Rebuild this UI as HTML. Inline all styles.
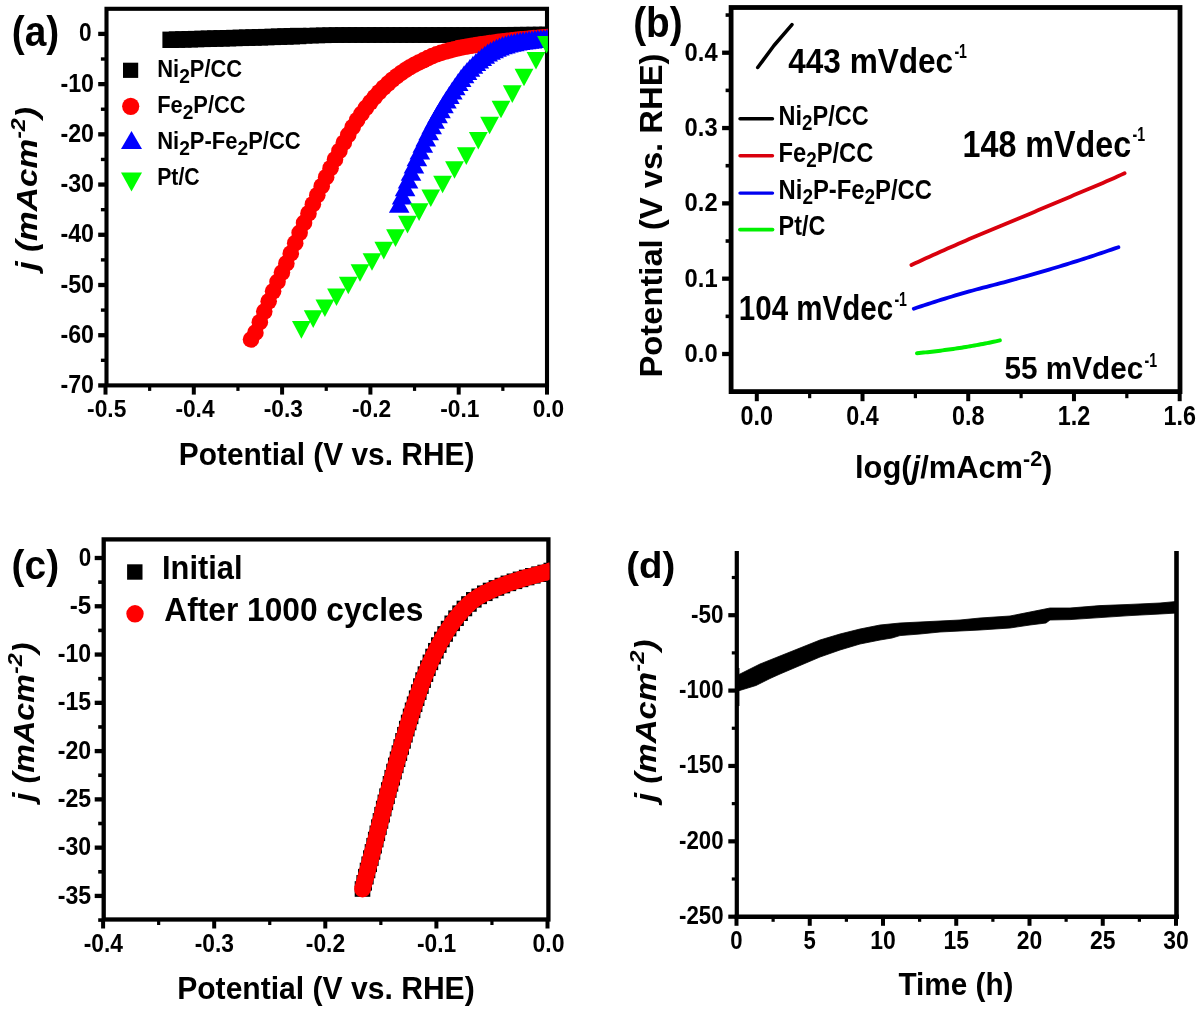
<!DOCTYPE html>
<html lang="en"><head><meta charset="utf-8"><title>HER performance figure</title>
<style>html,body{margin:0;padding:0;background:#fff}svg{display:block}</style></head><body>
<svg width="1200" height="1011" viewBox="0 0 1200 1011">
<rect width="1200" height="1011" fill="#fff"/>
<g id="panel-a">
<rect x="106.5" y="8.8" width="440.5" height="376.6" fill="none" stroke="#000" stroke-width="4.1"/>
<clipPath id="clipA"><rect x="106.5" y="8.8" width="441.4" height="376.6"/></clipPath>
<g clip-path="url(#clipA)">
<rect x="162.4" y="31.6" width="16.4" height="16.4" fill="#000"/>
<rect x="168.78" y="31.42" width="16.4" height="16.4" fill="#000"/>
<rect x="175.16" y="31.24" width="16.4" height="16.4" fill="#000"/>
<rect x="181.54" y="31.06" width="16.4" height="16.4" fill="#000"/>
<rect x="187.92" y="30.88" width="16.4" height="16.4" fill="#000"/>
<rect x="194.3" y="30.7" width="16.4" height="16.4" fill="#000"/>
<rect x="200.68" y="30.52" width="16.4" height="16.4" fill="#000"/>
<rect x="207.06" y="30.35" width="16.4" height="16.4" fill="#000"/>
<rect x="213.44" y="30.17" width="16.4" height="16.4" fill="#000"/>
<rect x="219.82" y="30" width="16.4" height="16.4" fill="#000"/>
<rect x="226.2" y="29.82" width="16.4" height="16.4" fill="#000"/>
<rect x="232.58" y="29.65" width="16.4" height="16.4" fill="#000"/>
<rect x="238.96" y="29.48" width="16.4" height="16.4" fill="#000"/>
<rect x="245.34" y="29.3" width="16.4" height="16.4" fill="#000"/>
<rect x="251.72" y="29.11" width="16.4" height="16.4" fill="#000"/>
<rect x="258.09" y="28.91" width="16.4" height="16.4" fill="#000"/>
<rect x="264.47" y="28.7" width="16.4" height="16.4" fill="#000"/>
<rect x="270.85" y="28.48" width="16.4" height="16.4" fill="#000"/>
<rect x="277.23" y="28.26" width="16.4" height="16.4" fill="#000"/>
<rect x="283.61" y="28.04" width="16.4" height="16.4" fill="#000"/>
<rect x="289.99" y="27.82" width="16.4" height="16.4" fill="#000"/>
<rect x="296.77" y="28.02" width="15.6" height="15.6" fill="#000"/>
<rect x="303.15" y="27.83" width="15.6" height="15.6" fill="#000"/>
<rect x="309.53" y="27.66" width="15.6" height="15.6" fill="#000"/>
<rect x="315.91" y="27.51" width="15.6" height="15.6" fill="#000"/>
<rect x="322.29" y="27.38" width="15.6" height="15.6" fill="#000"/>
<rect x="328.67" y="27.29" width="15.6" height="15.6" fill="#000"/>
<rect x="335.05" y="27.23" width="15.6" height="15.6" fill="#000"/>
<rect x="341.43" y="27.2" width="15.6" height="15.6" fill="#000"/>
<rect x="347.81" y="27.2" width="15.6" height="15.6" fill="#000"/>
<rect x="354.19" y="27.2" width="15.6" height="15.6" fill="#000"/>
<rect x="360.57" y="27.2" width="15.6" height="15.6" fill="#000"/>
<rect x="366.95" y="27.2" width="15.6" height="15.6" fill="#000"/>
<rect x="373.33" y="27.2" width="15.6" height="15.6" fill="#000"/>
<rect x="379.71" y="27.2" width="15.6" height="15.6" fill="#000"/>
<rect x="386.09" y="27.2" width="15.6" height="15.6" fill="#000"/>
<rect x="392.47" y="27.2" width="15.6" height="15.6" fill="#000"/>
<rect x="398.85" y="27.2" width="15.6" height="15.6" fill="#000"/>
<rect x="405.23" y="27.2" width="15.6" height="15.6" fill="#000"/>
<rect x="411.61" y="27.2" width="15.6" height="15.6" fill="#000"/>
<rect x="417.99" y="27.2" width="15.6" height="15.6" fill="#000"/>
<rect x="424.37" y="27.2" width="15.6" height="15.6" fill="#000"/>
<rect x="430.75" y="27.2" width="15.6" height="15.6" fill="#000"/>
<rect x="437.13" y="27.2" width="15.6" height="15.6" fill="#000"/>
<rect x="443.51" y="27.2" width="15.6" height="15.6" fill="#000"/>
<rect x="449.88" y="27.2" width="15.6" height="15.6" fill="#000"/>
<rect x="456.26" y="27.18" width="15.6" height="15.6" fill="#000"/>
<rect x="462.64" y="27.17" width="15.6" height="15.6" fill="#000"/>
<rect x="469.02" y="27.15" width="15.6" height="15.6" fill="#000"/>
<rect x="475.4" y="27.12" width="15.6" height="15.6" fill="#000"/>
<rect x="481.78" y="27.09" width="15.6" height="15.6" fill="#000"/>
<rect x="488.16" y="27.06" width="15.6" height="15.6" fill="#000"/>
<rect x="494.54" y="27.02" width="15.6" height="15.6" fill="#000"/>
<rect x="500.92" y="26.98" width="15.6" height="15.6" fill="#000"/>
<rect x="507.3" y="26.94" width="15.6" height="15.6" fill="#000"/>
<rect x="513.68" y="26.89" width="15.6" height="15.6" fill="#000"/>
<rect x="520.06" y="26.85" width="15.6" height="15.6" fill="#000"/>
<rect x="526.44" y="26.8" width="15.6" height="15.6" fill="#000"/>
<rect x="532.82" y="26.75" width="15.6" height="15.6" fill="#000"/>
<rect x="539.2" y="26.7" width="15.6" height="15.6" fill="#000"/>
<circle cx="251" cy="339.5" r="8.3" fill="#f00"/>
<circle cx="255.42" cy="332.66" r="8.3" fill="#f00"/>
<circle cx="259.84" cy="322.22" r="8.3" fill="#f00"/>
<circle cx="264.26" cy="311.6" r="8.3" fill="#f00"/>
<circle cx="268.68" cy="301.32" r="8.3" fill="#f00"/>
<circle cx="273.1" cy="291.36" r="8.3" fill="#f00"/>
<circle cx="277.52" cy="281.75" r="8.3" fill="#f00"/>
<circle cx="281.94" cy="272.62" r="8.3" fill="#f00"/>
<circle cx="286.36" cy="263.39" r="8.3" fill="#f00"/>
<circle cx="290.78" cy="253.49" r="8.3" fill="#f00"/>
<circle cx="295.2" cy="243.14" r="8.3" fill="#f00"/>
<circle cx="299.62" cy="232.79" r="8.3" fill="#f00"/>
<circle cx="304.04" cy="222.89" r="8.3" fill="#f00"/>
<circle cx="308.46" cy="213.42" r="8.3" fill="#f00"/>
<circle cx="312.88" cy="204.19" r="8.3" fill="#f00"/>
<circle cx="317.3" cy="195.13" r="8.3" fill="#f00"/>
<circle cx="321.72" cy="186.14" r="8.3" fill="#f00"/>
<circle cx="326.14" cy="177.14" r="8.3" fill="#f00"/>
<circle cx="330.56" cy="168.19" r="8.3" fill="#f00"/>
<circle cx="334.98" cy="159.41" r="8.3" fill="#f00"/>
<circle cx="339.4" cy="150.93" r="8.3" fill="#f00"/>
<circle cx="343.82" cy="142.7" r="8.3" fill="#f00"/>
<circle cx="348.24" cy="134.82" r="8.3" fill="#f00"/>
<circle cx="352.66" cy="127.17" r="8.3" fill="#f00"/>
<circle cx="357.08" cy="120.13" r="8.3" fill="#f00"/>
<circle cx="361.5" cy="113.75" r="8.3" fill="#f00"/>
<circle cx="365.92" cy="107.82" r="8.3" fill="#f00"/>
<circle cx="370.34" cy="102.29" r="8.3" fill="#f00"/>
<circle cx="374.76" cy="97.08" r="8.3" fill="#f00"/>
<circle cx="379.18" cy="92.2" r="8.3" fill="#f00"/>
<circle cx="383.6" cy="87.71" r="8.3" fill="#f00"/>
<circle cx="388.02" cy="83.56" r="8.3" fill="#f00"/>
<circle cx="392.44" cy="79.71" r="8.3" fill="#f00"/>
<circle cx="396.86" cy="76.18" r="8.3" fill="#f00"/>
<circle cx="401.28" cy="72.95" r="8.3" fill="#f00"/>
<circle cx="405.7" cy="69.96" r="8.3" fill="#f00"/>
<circle cx="410.12" cy="67.23" r="8.3" fill="#f00"/>
<circle cx="414.54" cy="64.74" r="8.3" fill="#f00"/>
<circle cx="418.96" cy="62.44" r="8.3" fill="#f00"/>
<circle cx="423.38" cy="60.26" r="8.3" fill="#f00"/>
<circle cx="427.8" cy="58.13" r="8.3" fill="#f00"/>
<circle cx="432.22" cy="56.1" r="8.3" fill="#f00"/>
<circle cx="436.64" cy="54.32" r="8.3" fill="#f00"/>
<circle cx="441.06" cy="52.84" r="8.3" fill="#f00"/>
<circle cx="445.48" cy="51.52" r="8.3" fill="#f00"/>
<circle cx="449.9" cy="50.33" r="8.3" fill="#f00"/>
<circle cx="454.32" cy="49.2" r="8.3" fill="#f00"/>
<circle cx="458.74" cy="48.15" r="8.3" fill="#f00"/>
<circle cx="463.16" cy="47.23" r="8.3" fill="#f00"/>
<circle cx="467.58" cy="46.43" r="8.3" fill="#f00"/>
<circle cx="472" cy="45.73" r="8.3" fill="#f00"/>
<circle cx="476.42" cy="45.04" r="8.3" fill="#f00"/>
<circle cx="480.84" cy="44.35" r="8.3" fill="#f00"/>
<circle cx="485.26" cy="43.68" r="8.3" fill="#f00"/>
<circle cx="489.68" cy="43.04" r="8.3" fill="#f00"/>
<circle cx="494.1" cy="42.46" r="8.3" fill="#f00"/>
<circle cx="498.52" cy="41.9" r="8.3" fill="#f00"/>
<circle cx="502.94" cy="41.36" r="8.3" fill="#f00"/>
<circle cx="507.36" cy="40.84" r="8.3" fill="#f00"/>
<circle cx="511.78" cy="40.35" r="8.3" fill="#f00"/>
<circle cx="516.2" cy="39.87" r="8.3" fill="#f00"/>
<circle cx="520.62" cy="39.41" r="8.3" fill="#f00"/>
<circle cx="525.04" cy="38.97" r="8.3" fill="#f00"/>
<circle cx="529.46" cy="38.55" r="8.3" fill="#f00"/>
<circle cx="533.88" cy="38.14" r="8.3" fill="#f00"/>
<circle cx="538.3" cy="37.74" r="8.3" fill="#f00"/>
<circle cx="542.72" cy="37.35" r="8.3" fill="#f00"/>
<circle cx="547.14" cy="37" r="8.3" fill="#f00"/>
<polygon points="388.9,212.8 409.5,212.8 399.2,194.8" fill="#00f"/>
<polygon points="391.85,204.42 412.45,204.42 402.15,186.42" fill="#00f"/>
<polygon points="394.8,196.28 415.4,196.28 405.1,178.28" fill="#00f"/>
<polygon points="397.75,188.4 418.35,188.4 408.05,170.4" fill="#00f"/>
<polygon points="400.7,180.78 421.3,180.78 411,162.78" fill="#00f"/>
<polygon points="403.65,173.41 424.25,173.41 413.95,155.41" fill="#00f"/>
<polygon points="406.6,166.27 427.2,166.27 416.9,148.27" fill="#00f"/>
<polygon points="409.55,159.38 430.15,159.38 419.85,141.38" fill="#00f"/>
<polygon points="412.5,152.76 433.1,152.76 422.8,134.76" fill="#00f"/>
<polygon points="415.45,146.41 436.05,146.41 425.75,128.41" fill="#00f"/>
<polygon points="418.4,140.28 439,140.28 428.7,122.28" fill="#00f"/>
<polygon points="421.35,134.35 441.95,134.35 431.65,116.35" fill="#00f"/>
<polygon points="424.3,128.68 444.9,128.68 434.6,110.68" fill="#00f"/>
<polygon points="427.25,123.27 447.85,123.27 437.55,105.27" fill="#00f"/>
<polygon points="430.2,118.13 450.8,118.13 440.5,100.13" fill="#00f"/>
<polygon points="433.15,113.23 453.75,113.23 443.45,95.23" fill="#00f"/>
<polygon points="436.1,108.53 456.7,108.53 446.4,90.53" fill="#00f"/>
<polygon points="439.05,103.98 459.65,103.98 449.35,85.98" fill="#00f"/>
<polygon points="442,99.56 462.6,99.56 452.3,81.56" fill="#00f"/>
<polygon points="444.95,95.18 465.55,95.18 455.25,77.18" fill="#00f"/>
<polygon points="447.9,90.93 468.5,90.93 458.2,72.93" fill="#00f"/>
<polygon points="450.85,86.92 471.45,86.92 461.15,68.92" fill="#00f"/>
<polygon points="453.8,83.24 474.4,83.24 464.1,65.24" fill="#00f"/>
<polygon points="456.75,79.88 477.35,79.88 467.05,61.88" fill="#00f"/>
<polygon points="459.7,76.75 480.3,76.75 470,58.75" fill="#00f"/>
<polygon points="462.65,73.82 483.25,73.82 472.95,55.82" fill="#00f"/>
<polygon points="465.6,71.08 486.2,71.08 475.9,53.08" fill="#00f"/>
<polygon points="468.55,68.51 489.15,68.51 478.85,50.51" fill="#00f"/>
<polygon points="471.5,66.02 492.1,66.02 481.8,48.02" fill="#00f"/>
<polygon points="474.45,63.67 495.05,63.67 484.75,45.67" fill="#00f"/>
<polygon points="477.4,61.53 498,61.53 487.7,43.53" fill="#00f"/>
<polygon points="480.35,59.69 500.95,59.69 490.65,41.69" fill="#00f"/>
<polygon points="483.3,58.13 503.9,58.13 493.6,40.13" fill="#00f"/>
<polygon points="486.25,56.71 506.85,56.71 496.55,38.71" fill="#00f"/>
<polygon points="489.2,55.44 509.8,55.44 499.5,37.44" fill="#00f"/>
<polygon points="492.15,54.32 512.75,54.32 502.45,36.32" fill="#00f"/>
<polygon points="495.1,53.38 515.7,53.38 505.4,35.38" fill="#00f"/>
<polygon points="498.05,52.56 518.65,52.56 508.35,34.56" fill="#00f"/>
<polygon points="501,51.83 521.6,51.83 511.3,33.83" fill="#00f"/>
<polygon points="503.95,51.17 524.55,51.17 514.25,33.17" fill="#00f"/>
<polygon points="506.9,50.59 527.5,50.59 517.2,32.59" fill="#00f"/>
<polygon points="509.85,50.08 530.45,50.08 520.15,32.08" fill="#00f"/>
<polygon points="512.8,49.61 533.4,49.61 523.1,31.61" fill="#00f"/>
<polygon points="515.75,49.19 536.35,49.19 526.05,31.19" fill="#00f"/>
<polygon points="518.7,48.8 539.3,48.8 529,30.8" fill="#00f"/>
<polygon points="521.65,48.43 542.25,48.43 531.95,30.43" fill="#00f"/>
<polygon points="524.6,48.1 545.2,48.1 534.9,30.1" fill="#00f"/>
<polygon points="527.55,47.79 548.15,47.79 537.85,29.79" fill="#00f"/>
<polygon points="530.5,47.5 551.1,47.5 540.8,29.5" fill="#00f"/>
<polygon points="533.45,47.24 554.05,47.24 543.75,29.24" fill="#00f"/>
<polygon points="536.4,47.02 557,47.02 546.7,29.02" fill="#00f"/>
<polygon points="292,321.1 310.8,321.1 301.4,338.7" fill="#0f0"/>
<polygon points="303.8,310.3 322.6,310.3 313.2,327.9" fill="#0f0"/>
<polygon points="315.5,299.5 334.3,299.5 324.9,317.1" fill="#0f0"/>
<polygon points="327.1,288.5 345.9,288.5 336.5,306.1" fill="#0f0"/>
<polygon points="338.9,276.7 357.7,276.7 348.3,294.3" fill="#0f0"/>
<polygon points="350.6,264.2 369.4,264.2 360,281.8" fill="#0f0"/>
<polygon points="362.6,253.2 381.4,253.2 372,270.8" fill="#0f0"/>
<polygon points="374.4,241.8 393.2,241.8 383.8,259.4" fill="#0f0"/>
<polygon points="386.1,229.3 404.9,229.3 395.5,246.9" fill="#0f0"/>
<polygon points="398.1,215.8 416.9,215.8 407.5,233.4" fill="#0f0"/>
<polygon points="409.7,203.3 428.5,203.3 419.1,220.9" fill="#0f0"/>
<polygon points="421.4,189.4 440.2,189.4 430.8,207" fill="#0f0"/>
<polygon points="433.2,175.7 452,175.7 442.6,193.3" fill="#0f0"/>
<polygon points="445.1,161.2 463.9,161.2 454.5,178.8" fill="#0f0"/>
<polygon points="456.9,147.3 475.7,147.3 466.3,164.9" fill="#0f0"/>
<polygon points="468.9,132 487.7,132 478.3,149.6" fill="#0f0"/>
<polygon points="480.2,116.7 499,116.7 489.6,134.3" fill="#0f0"/>
<polygon points="491.6,100.7 510.4,100.7 501,118.3" fill="#0f0"/>
<polygon points="502.9,85.3 521.7,85.3 512.3,102.9" fill="#0f0"/>
<polygon points="514.6,68.7 533.4,68.7 524,86.3" fill="#0f0"/>
<polygon points="526.6,52 545.4,52 536,69.6" fill="#0f0"/>
<polygon points="537.1,36 555.9,36 546.5,53.6" fill="#0f0"/>
</g>
<line x1="98.2" y1="33.9" x2="106.5" y2="33.9" stroke="#000" stroke-width="4.3" stroke-linecap="butt"/>
<line x1="98.2" y1="84.12" x2="106.5" y2="84.12" stroke="#000" stroke-width="4.3" stroke-linecap="butt"/>
<line x1="98.2" y1="134.34" x2="106.5" y2="134.34" stroke="#000" stroke-width="4.3" stroke-linecap="butt"/>
<line x1="98.2" y1="184.56" x2="106.5" y2="184.56" stroke="#000" stroke-width="4.3" stroke-linecap="butt"/>
<line x1="98.2" y1="234.78" x2="106.5" y2="234.78" stroke="#000" stroke-width="4.3" stroke-linecap="butt"/>
<line x1="98.2" y1="285" x2="106.5" y2="285" stroke="#000" stroke-width="4.3" stroke-linecap="butt"/>
<line x1="98.2" y1="335.22" x2="106.5" y2="335.22" stroke="#000" stroke-width="4.3" stroke-linecap="butt"/>
<line x1="98.2" y1="385.44" x2="106.5" y2="385.44" stroke="#000" stroke-width="4.3" stroke-linecap="butt"/>
<line x1="100.9" y1="59.01" x2="106.5" y2="59.01" stroke="#000" stroke-width="3.4" stroke-linecap="butt"/>
<line x1="100.9" y1="109.23" x2="106.5" y2="109.23" stroke="#000" stroke-width="3.4" stroke-linecap="butt"/>
<line x1="100.9" y1="159.45" x2="106.5" y2="159.45" stroke="#000" stroke-width="3.4" stroke-linecap="butt"/>
<line x1="100.9" y1="209.67" x2="106.5" y2="209.67" stroke="#000" stroke-width="3.4" stroke-linecap="butt"/>
<line x1="100.9" y1="259.89" x2="106.5" y2="259.89" stroke="#000" stroke-width="3.4" stroke-linecap="butt"/>
<line x1="100.9" y1="310.11" x2="106.5" y2="310.11" stroke="#000" stroke-width="3.4" stroke-linecap="butt"/>
<line x1="100.9" y1="360.33" x2="106.5" y2="360.33" stroke="#000" stroke-width="3.4" stroke-linecap="butt"/>
<line x1="547" y1="385.4" x2="547" y2="394.6" stroke="#000" stroke-width="4" stroke-linecap="butt"/>
<line x1="458.7" y1="385.4" x2="458.7" y2="394.6" stroke="#000" stroke-width="4" stroke-linecap="butt"/>
<line x1="370.4" y1="385.4" x2="370.4" y2="394.6" stroke="#000" stroke-width="4" stroke-linecap="butt"/>
<line x1="282.1" y1="385.4" x2="282.1" y2="394.6" stroke="#000" stroke-width="4" stroke-linecap="butt"/>
<line x1="193.8" y1="385.4" x2="193.8" y2="394.6" stroke="#000" stroke-width="4" stroke-linecap="butt"/>
<line x1="105.5" y1="385.4" x2="105.5" y2="394.6" stroke="#000" stroke-width="4" stroke-linecap="butt"/>
<line x1="502.85" y1="385.4" x2="502.85" y2="390.9" stroke="#000" stroke-width="3.2" stroke-linecap="butt"/>
<line x1="414.55" y1="385.4" x2="414.55" y2="390.9" stroke="#000" stroke-width="3.2" stroke-linecap="butt"/>
<line x1="326.25" y1="385.4" x2="326.25" y2="390.9" stroke="#000" stroke-width="3.2" stroke-linecap="butt"/>
<line x1="237.95" y1="385.4" x2="237.95" y2="390.9" stroke="#000" stroke-width="3.2" stroke-linecap="butt"/>
<line x1="149.65" y1="385.4" x2="149.65" y2="390.9" stroke="#000" stroke-width="3.2" stroke-linecap="butt"/>
<text x="91.6" y="41.4" font-size="25.2" font-weight="bold" font-family='"Liberation Sans", Arial, Helvetica, sans-serif' fill="#000" text-anchor="end" textLength="12.6" lengthAdjust="spacingAndGlyphs">0</text>
<text x="94" y="91.62" font-size="25.2" font-weight="bold" font-family='"Liberation Sans", Arial, Helvetica, sans-serif' fill="#000" text-anchor="end" textLength="33.6" lengthAdjust="spacingAndGlyphs">-10</text>
<text x="94" y="141.84" font-size="25.2" font-weight="bold" font-family='"Liberation Sans", Arial, Helvetica, sans-serif' fill="#000" text-anchor="end" textLength="33.6" lengthAdjust="spacingAndGlyphs">-20</text>
<text x="94" y="192.06" font-size="25.2" font-weight="bold" font-family='"Liberation Sans", Arial, Helvetica, sans-serif' fill="#000" text-anchor="end" textLength="33.6" lengthAdjust="spacingAndGlyphs">-30</text>
<text x="94" y="242.28" font-size="25.2" font-weight="bold" font-family='"Liberation Sans", Arial, Helvetica, sans-serif' fill="#000" text-anchor="end" textLength="33.6" lengthAdjust="spacingAndGlyphs">-40</text>
<text x="94" y="292.5" font-size="25.2" font-weight="bold" font-family='"Liberation Sans", Arial, Helvetica, sans-serif' fill="#000" text-anchor="end" textLength="33.6" lengthAdjust="spacingAndGlyphs">-50</text>
<text x="94" y="342.72" font-size="25.2" font-weight="bold" font-family='"Liberation Sans", Arial, Helvetica, sans-serif' fill="#000" text-anchor="end" textLength="33.6" lengthAdjust="spacingAndGlyphs">-60</text>
<text x="94" y="392.94" font-size="25.2" font-weight="bold" font-family='"Liberation Sans", Arial, Helvetica, sans-serif' fill="#000" text-anchor="end" textLength="33.6" lengthAdjust="spacingAndGlyphs">-70</text>
<text x="548.4" y="416.9" font-size="24.2" font-weight="bold" font-family='"Liberation Sans", Arial, Helvetica, sans-serif' fill="#000" text-anchor="middle" textLength="31.5" lengthAdjust="spacingAndGlyphs">0.0</text>
<text x="459.9" y="416.9" font-size="24.2" font-weight="bold" font-family='"Liberation Sans", Arial, Helvetica, sans-serif' fill="#000" text-anchor="middle" textLength="39.2" lengthAdjust="spacingAndGlyphs">-0.1</text>
<text x="371.6" y="416.9" font-size="24.2" font-weight="bold" font-family='"Liberation Sans", Arial, Helvetica, sans-serif' fill="#000" text-anchor="middle" textLength="39.2" lengthAdjust="spacingAndGlyphs">-0.2</text>
<text x="283.3" y="416.9" font-size="24.2" font-weight="bold" font-family='"Liberation Sans", Arial, Helvetica, sans-serif' fill="#000" text-anchor="middle" textLength="39.2" lengthAdjust="spacingAndGlyphs">-0.3</text>
<text x="195" y="416.9" font-size="24.2" font-weight="bold" font-family='"Liberation Sans", Arial, Helvetica, sans-serif' fill="#000" text-anchor="middle" textLength="39.2" lengthAdjust="spacingAndGlyphs">-0.4</text>
<text x="106.7" y="416.9" font-size="24.2" font-weight="bold" font-family='"Liberation Sans", Arial, Helvetica, sans-serif' fill="#000" text-anchor="middle" textLength="39.2" lengthAdjust="spacingAndGlyphs">-0.5</text>
<text x="178.8" y="465.2" font-size="30.5" font-weight="bold" font-family='"Liberation Sans", Arial, Helvetica, sans-serif' fill="#000" textLength="295.6" lengthAdjust="spacingAndGlyphs">Potential (V vs. RHE)</text>
<text x="37" y="270.6" font-size="30.3" font-weight="bold" font-family='"Liberation Sans", Arial, Helvetica, sans-serif' fill="#000" font-style="italic" textLength="163.5" lengthAdjust="spacingAndGlyphs" transform="rotate(-90 37 270.6)">j (mAcm<tspan font-size="21" dy="-11.5">-2</tspan><tspan dy="11.5">)</tspan></text>
<text x="11.8" y="46" font-size="42.5" font-weight="bold" font-family='"Liberation Sans", Arial, Helvetica, sans-serif' fill="#000" textLength="47.5" lengthAdjust="spacingAndGlyphs">(a)</text>
<rect x="123" y="62.7" width="15.2" height="15.2" fill="#000"/>
<circle cx="130.7" cy="106.3" r="8.6" fill="#f00"/>
<polygon points="121,149 142,149 131.5,131" fill="#00f"/>
<polygon points="121,172.5 142,172.5 131.5,191.5" fill="#0f0"/>
<text x="157.2" y="76.9" font-size="24" font-weight="bold" font-family='"Liberation Sans", Arial, Helvetica, sans-serif' fill="#000" textLength="85" lengthAdjust="spacingAndGlyphs">Ni<tspan font-size="21" dy="6">2</tspan><tspan dy="-6">P/CC</tspan></text>
<text x="157.2" y="113.1" font-size="24" font-weight="bold" font-family='"Liberation Sans", Arial, Helvetica, sans-serif' fill="#000" textLength="88.3" lengthAdjust="spacingAndGlyphs">Fe<tspan font-size="21" dy="6">2</tspan><tspan dy="-6">P/CC</tspan></text>
<text x="157.2" y="148.5" font-size="24" font-weight="bold" font-family='"Liberation Sans", Arial, Helvetica, sans-serif' fill="#000" textLength="143.5" lengthAdjust="spacingAndGlyphs">Ni<tspan font-size="21" dy="6">2</tspan><tspan dy="-6">P-Fe</tspan><tspan font-size="21" dy="6">2</tspan><tspan dy="-6">P/CC</tspan></text>
<text x="157.2" y="185.4" font-size="24" font-weight="bold" font-family='"Liberation Sans", Arial, Helvetica, sans-serif' fill="#000" textLength="42.5" lengthAdjust="spacingAndGlyphs">Pt/C</text>
</g>
<g id="panel-b">
<rect x="731.1" y="7.5" width="448.9" height="384.1" fill="none" stroke="#000" stroke-width="4.8"/>
<line x1="722.1" y1="354" x2="731.1" y2="354" stroke="#000" stroke-width="4.3" stroke-linecap="butt"/>
<line x1="722.1" y1="278.68" x2="731.1" y2="278.68" stroke="#000" stroke-width="4.3" stroke-linecap="butt"/>
<line x1="722.1" y1="203.36" x2="731.1" y2="203.36" stroke="#000" stroke-width="4.3" stroke-linecap="butt"/>
<line x1="722.1" y1="128.04" x2="731.1" y2="128.04" stroke="#000" stroke-width="4.3" stroke-linecap="butt"/>
<line x1="722.1" y1="52.72" x2="731.1" y2="52.72" stroke="#000" stroke-width="4.3" stroke-linecap="butt"/>
<line x1="725.6" y1="316.34" x2="731.1" y2="316.34" stroke="#000" stroke-width="3.6" stroke-linecap="butt"/>
<line x1="725.6" y1="241.02" x2="731.1" y2="241.02" stroke="#000" stroke-width="3.6" stroke-linecap="butt"/>
<line x1="725.6" y1="165.7" x2="731.1" y2="165.7" stroke="#000" stroke-width="3.6" stroke-linecap="butt"/>
<line x1="725.6" y1="90.38" x2="731.1" y2="90.38" stroke="#000" stroke-width="3.6" stroke-linecap="butt"/>
<line x1="725.6" y1="15.06" x2="731.1" y2="15.06" stroke="#000" stroke-width="3.6" stroke-linecap="butt"/>
<line x1="756.8" y1="391.6" x2="756.8" y2="401.2" stroke="#000" stroke-width="4" stroke-linecap="butt"/>
<line x1="862.52" y1="391.6" x2="862.52" y2="401.2" stroke="#000" stroke-width="4" stroke-linecap="butt"/>
<line x1="968.24" y1="391.6" x2="968.24" y2="401.2" stroke="#000" stroke-width="4" stroke-linecap="butt"/>
<line x1="1073.96" y1="391.6" x2="1073.96" y2="401.2" stroke="#000" stroke-width="4" stroke-linecap="butt"/>
<line x1="1179.68" y1="391.6" x2="1179.68" y2="401.2" stroke="#000" stroke-width="4" stroke-linecap="butt"/>
<line x1="809.66" y1="391.6" x2="809.66" y2="398.2" stroke="#000" stroke-width="3.2" stroke-linecap="butt"/>
<line x1="915.38" y1="391.6" x2="915.38" y2="398.2" stroke="#000" stroke-width="3.2" stroke-linecap="butt"/>
<line x1="1021.1" y1="391.6" x2="1021.1" y2="398.2" stroke="#000" stroke-width="3.2" stroke-linecap="butt"/>
<line x1="1126.82" y1="391.6" x2="1126.82" y2="398.2" stroke="#000" stroke-width="3.2" stroke-linecap="butt"/>
<text x="717.6" y="362" font-size="25.5" font-weight="bold" font-family='"Liberation Sans", Arial, Helvetica, sans-serif' fill="#000" text-anchor="end" textLength="33" lengthAdjust="spacingAndGlyphs">0.0</text>
<text x="717.6" y="286.68" font-size="25.5" font-weight="bold" font-family='"Liberation Sans", Arial, Helvetica, sans-serif' fill="#000" text-anchor="end" textLength="33" lengthAdjust="spacingAndGlyphs">0.1</text>
<text x="717.6" y="211.36" font-size="25.5" font-weight="bold" font-family='"Liberation Sans", Arial, Helvetica, sans-serif' fill="#000" text-anchor="end" textLength="33" lengthAdjust="spacingAndGlyphs">0.2</text>
<text x="717.6" y="136.04" font-size="25.5" font-weight="bold" font-family='"Liberation Sans", Arial, Helvetica, sans-serif' fill="#000" text-anchor="end" textLength="33" lengthAdjust="spacingAndGlyphs">0.3</text>
<text x="717.6" y="60.72" font-size="25.5" font-weight="bold" font-family='"Liberation Sans", Arial, Helvetica, sans-serif' fill="#000" text-anchor="end" textLength="33" lengthAdjust="spacingAndGlyphs">0.4</text>
<text x="756.8" y="424.9" font-size="27.5" font-weight="bold" font-family='"Liberation Sans", Arial, Helvetica, sans-serif' fill="#000" text-anchor="middle" textLength="32.5" lengthAdjust="spacingAndGlyphs">0.0</text>
<text x="862.52" y="424.9" font-size="27.5" font-weight="bold" font-family='"Liberation Sans", Arial, Helvetica, sans-serif' fill="#000" text-anchor="middle" textLength="32.5" lengthAdjust="spacingAndGlyphs">0.4</text>
<text x="968.24" y="424.9" font-size="27.5" font-weight="bold" font-family='"Liberation Sans", Arial, Helvetica, sans-serif' fill="#000" text-anchor="middle" textLength="32.5" lengthAdjust="spacingAndGlyphs">0.8</text>
<text x="1073.96" y="424.9" font-size="27.5" font-weight="bold" font-family='"Liberation Sans", Arial, Helvetica, sans-serif' fill="#000" text-anchor="middle" textLength="32.5" lengthAdjust="spacingAndGlyphs">1.2</text>
<text x="1179.68" y="424.9" font-size="27.5" font-weight="bold" font-family='"Liberation Sans", Arial, Helvetica, sans-serif' fill="#000" text-anchor="middle" textLength="32.5" lengthAdjust="spacingAndGlyphs">1.6</text>
<polyline points="757.7,67.5 774,45.5 792,24.6" fill="none" stroke="#000" stroke-width="3.5" stroke-linecap="round" stroke-linejoin="round"/>
<polyline points="911.4,265 915.01,263.32 918.63,261.65 922.24,259.99 925.85,258.34 929.47,256.69 933.08,255.05 936.69,253.42 940.31,251.8 943.92,250.19 947.54,248.58 951.15,246.98 954.76,245.39 958.38,243.81 961.99,242.23 965.6,240.67 969.22,239.12 972.83,237.59 976.44,236.06 980.06,234.55 983.67,233.04 987.28,231.53 990.9,230.03 994.51,228.54 998.13,227.04 1001.74,225.54 1005.35,224.04 1008.97,222.53 1012.58,221.02 1016.19,219.5 1019.81,217.98 1023.42,216.46 1027.03,214.94 1030.65,213.41 1034.26,211.89 1037.87,210.37 1041.49,208.84 1045.1,207.31 1048.72,205.79 1052.33,204.26 1055.94,202.73 1059.56,201.21 1063.17,199.68 1066.78,198.15 1070.4,196.63 1074.01,195.12 1077.62,193.61 1081.24,192.1 1084.85,190.59 1088.46,189.07 1092.08,187.55 1095.69,186.02 1099.31,184.48 1102.92,182.93 1106.53,181.36 1110.15,179.76 1113.76,178.15 1117.37,176.51 1120.99,174.86 1124.6,173.2" fill="none" stroke="#d9000d" stroke-width="3.8" stroke-linecap="round" stroke-linejoin="round"/>
<polyline points="913.8,308.7 917.27,307.53 920.74,306.37 924.2,305.22 927.67,304.09 931.14,302.96 934.61,301.85 938.07,300.74 941.54,299.66 945.01,298.58 948.48,297.51 951.95,296.46 955.41,295.42 958.88,294.4 962.35,293.39 965.82,292.39 969.28,291.43 972.75,290.48 976.22,289.54 979.69,288.62 983.16,287.71 986.62,286.81 990.09,285.91 993.56,285.02 997.03,284.12 1000.49,283.21 1003.96,282.3 1007.43,281.38 1010.9,280.44 1014.37,279.48 1017.83,278.51 1021.3,277.54 1024.77,276.57 1028.24,275.59 1031.71,274.6 1035.17,273.61 1038.64,272.61 1042.11,271.61 1045.58,270.6 1049.04,269.58 1052.51,268.55 1055.98,267.51 1059.45,266.47 1062.92,265.41 1066.38,264.34 1069.85,263.27 1073.32,262.18 1076.79,261.08 1080.25,259.98 1083.72,258.86 1087.19,257.74 1090.66,256.6 1094.13,255.46 1097.59,254.3 1101.06,253.14 1104.53,251.97 1108,250.79 1111.46,249.6 1114.93,248.41 1118.4,247.2" fill="none" stroke="#0000f0" stroke-width="3.8" stroke-linecap="round" stroke-linejoin="round"/>
<polyline points="917,353.2 919.13,353 921.25,352.8 923.38,352.59 925.5,352.37 927.63,352.14 929.75,351.9 931.88,351.66 934.01,351.42 936.13,351.16 938.26,350.9 940.38,350.64 942.51,350.37 944.63,350.09 946.76,349.81 948.88,349.53 951.01,349.24 953.14,348.94 955.26,348.64 957.39,348.32 959.51,348 961.64,347.66 963.76,347.32 965.89,346.97 968.02,346.61 970.14,346.25 972.27,345.88 974.39,345.5 976.52,345.12 978.64,344.73 980.77,344.33 982.89,343.94 985.02,343.53 987.15,343.12 989.27,342.69 991.4,342.25 993.52,341.8 995.65,341.34 997.77,340.87 999.9,340.4" fill="none" stroke="#00f000" stroke-width="4" stroke-linecap="round" stroke-linejoin="round"/>
<line x1="740" y1="118.8" x2="772.5" y2="118.8" stroke="#000" stroke-width="3.4" stroke-linecap="round"/>
<line x1="740" y1="155.8" x2="772.5" y2="155.8" stroke="#d9000d" stroke-width="3.4" stroke-linecap="round"/>
<line x1="740" y1="193.1" x2="772.5" y2="193.1" stroke="#0000f0" stroke-width="3.4" stroke-linecap="round"/>
<line x1="740" y1="229.6" x2="772.5" y2="229.6" stroke="#00f000" stroke-width="3.8" stroke-linecap="round"/>
<text x="778.6" y="125.2" font-size="27" font-weight="bold" font-family='"Liberation Sans", Arial, Helvetica, sans-serif' fill="#000" textLength="90" lengthAdjust="spacingAndGlyphs">Ni<tspan font-size="21.5" dy="5">2</tspan><tspan dy="-5">P/CC</tspan></text>
<text x="778.6" y="161.7" font-size="27" font-weight="bold" font-family='"Liberation Sans", Arial, Helvetica, sans-serif' fill="#000" textLength="94.7" lengthAdjust="spacingAndGlyphs">Fe<tspan font-size="21.5" dy="5">2</tspan><tspan dy="-5">P/CC</tspan></text>
<text x="778.6" y="198.5" font-size="27" font-weight="bold" font-family='"Liberation Sans", Arial, Helvetica, sans-serif' fill="#000" textLength="153.4" lengthAdjust="spacingAndGlyphs">Ni<tspan font-size="21.5" dy="5">2</tspan><tspan dy="-5">P-Fe</tspan><tspan font-size="21.5" dy="5">2</tspan><tspan dy="-5">P/CC</tspan></text>
<text x="778.6" y="235.4" font-size="27" font-weight="bold" font-family='"Liberation Sans", Arial, Helvetica, sans-serif' fill="#000" textLength="46.7" lengthAdjust="spacingAndGlyphs">Pt/C</text>
<text x="788.2" y="72.7" font-size="35" font-weight="bold" font-family='"Liberation Sans", Arial, Helvetica, sans-serif' fill="#000" textLength="165" lengthAdjust="spacingAndGlyphs">443 mVdec</text>
<text x="954.4" y="58" font-size="19.3" font-weight="bold" font-family='"Liberation Sans", Arial, Helvetica, sans-serif' fill="#000" textLength="12.6" lengthAdjust="spacingAndGlyphs">-1</text>
<text x="962.6" y="157" font-size="36" font-weight="bold" font-family='"Liberation Sans", Arial, Helvetica, sans-serif' fill="#000" textLength="168.5" lengthAdjust="spacingAndGlyphs">148 mVdec</text>
<text x="1132.5" y="141.4" font-size="19.3" font-weight="bold" font-family='"Liberation Sans", Arial, Helvetica, sans-serif' fill="#000" textLength="12.6" lengthAdjust="spacingAndGlyphs">-1</text>
<text x="738.8" y="320" font-size="35" font-weight="bold" font-family='"Liberation Sans", Arial, Helvetica, sans-serif' fill="#000" textLength="154.3" lengthAdjust="spacingAndGlyphs">104 mVdec</text>
<text x="894.4" y="305.5" font-size="19.3" font-weight="bold" font-family='"Liberation Sans", Arial, Helvetica, sans-serif' fill="#000" textLength="12.6" lengthAdjust="spacingAndGlyphs">-1</text>
<text x="1004.6" y="379" font-size="32" font-weight="bold" font-family='"Liberation Sans", Arial, Helvetica, sans-serif' fill="#000" textLength="138.6" lengthAdjust="spacingAndGlyphs">55 mVdec</text>
<text x="1144.6" y="366.6" font-size="19.3" font-weight="bold" font-family='"Liberation Sans", Arial, Helvetica, sans-serif' fill="#000" textLength="12.6" lengthAdjust="spacingAndGlyphs">-1</text>
<text x="855" y="478.2" font-size="31" font-weight="bold" font-family='"Liberation Sans", Arial, Helvetica, sans-serif' fill="#000" textLength="197.4" lengthAdjust="spacingAndGlyphs">log(<tspan font-style="italic">j</tspan>/mAcm<tspan font-size="21.5" dy="-12">-2</tspan><tspan dy="12">)</tspan></text>
<text x="662" y="377.6" font-size="31.2" font-weight="bold" font-family='"Liberation Sans", Arial, Helvetica, sans-serif' fill="#000" textLength="324" lengthAdjust="spacingAndGlyphs" transform="rotate(-90 662 377.6)">Potential (V vs. RHE)</text>
<text x="633.2" y="37.2" font-size="42.5" font-weight="bold" font-family='"Liberation Sans", Arial, Helvetica, sans-serif' fill="#000" textLength="49.5" lengthAdjust="spacingAndGlyphs">(b)</text>
</g>
<g id="panel-c">
<rect x="103.7" y="539.4" width="444.7" height="380.1" fill="none" stroke="#000" stroke-width="4.3"/>
<clipPath id="clipC"><rect x="103.7" y="539.4" width="445.6" height="380.1"/></clipPath>
<g clip-path="url(#clipC)">
<rect x="354.7" y="881.2" width="15.6" height="15.6" fill="#000"/>
<rect x="356.38" y="875.03" width="15.6" height="15.6" fill="#000"/>
<rect x="358.06" y="868.85" width="15.6" height="15.6" fill="#000"/>
<rect x="359.73" y="862.67" width="15.6" height="15.6" fill="#000"/>
<rect x="361.39" y="856.49" width="15.6" height="15.6" fill="#000"/>
<rect x="363.05" y="850.31" width="15.6" height="15.6" fill="#000"/>
<rect x="364.69" y="844.12" width="15.6" height="15.6" fill="#000"/>
<rect x="366.32" y="837.93" width="15.6" height="15.6" fill="#000"/>
<rect x="367.93" y="831.74" width="15.6" height="15.6" fill="#000"/>
<rect x="369.52" y="825.54" width="15.6" height="15.6" fill="#000"/>
<rect x="371.11" y="819.34" width="15.6" height="15.6" fill="#000"/>
<rect x="372.69" y="813.14" width="15.6" height="15.6" fill="#000"/>
<rect x="374.29" y="806.94" width="15.6" height="15.6" fill="#000"/>
<rect x="375.91" y="800.75" width="15.6" height="15.6" fill="#000"/>
<rect x="377.56" y="794.57" width="15.6" height="15.6" fill="#000"/>
<rect x="379.24" y="788.39" width="15.6" height="15.6" fill="#000"/>
<rect x="380.95" y="782.22" width="15.6" height="15.6" fill="#000"/>
<rect x="382.68" y="776.06" width="15.6" height="15.6" fill="#000"/>
<rect x="384.42" y="769.9" width="15.6" height="15.6" fill="#000"/>
<rect x="386.19" y="763.75" width="15.6" height="15.6" fill="#000"/>
<rect x="387.97" y="757.6" width="15.6" height="15.6" fill="#000"/>
<rect x="389.76" y="751.46" width="15.6" height="15.6" fill="#000"/>
<rect x="391.57" y="745.32" width="15.6" height="15.6" fill="#000"/>
<rect x="393.4" y="739.19" width="15.6" height="15.6" fill="#000"/>
<rect x="395.24" y="733.06" width="15.6" height="15.6" fill="#000"/>
<rect x="397.1" y="726.93" width="15.6" height="15.6" fill="#000"/>
<rect x="398.96" y="720.81" width="15.6" height="15.6" fill="#000"/>
<rect x="400.86" y="714.7" width="15.6" height="15.6" fill="#000"/>
<rect x="402.79" y="708.6" width="15.6" height="15.6" fill="#000"/>
<rect x="404.77" y="702.51" width="15.6" height="15.6" fill="#000"/>
<rect x="406.79" y="696.44" width="15.6" height="15.6" fill="#000"/>
<rect x="408.85" y="690.38" width="15.6" height="15.6" fill="#000"/>
<rect x="410.94" y="684.33" width="15.6" height="15.6" fill="#000"/>
<rect x="413.09" y="678.3" width="15.6" height="15.6" fill="#000"/>
<rect x="415.31" y="672.3" width="15.6" height="15.6" fill="#000"/>
<rect x="417.64" y="666.34" width="15.6" height="15.6" fill="#000"/>
<rect x="420.09" y="660.43" width="15.6" height="15.6" fill="#000"/>
<rect x="422.62" y="654.55" width="15.6" height="15.6" fill="#000"/>
<rect x="425.26" y="648.72" width="15.6" height="15.6" fill="#000"/>
<rect x="428.04" y="642.95" width="15.6" height="15.6" fill="#000"/>
<rect x="430.99" y="637.27" width="15.6" height="15.6" fill="#000"/>
<rect x="434.09" y="631.68" width="15.6" height="15.6" fill="#000"/>
<rect x="437.35" y="626.17" width="15.6" height="15.6" fill="#000"/>
<rect x="440.8" y="620.78" width="15.6" height="15.6" fill="#000"/>
<rect x="444.43" y="615.51" width="15.6" height="15.6" fill="#000"/>
<rect x="448.24" y="610.37" width="15.6" height="15.6" fill="#000"/>
<rect x="452.28" y="605.4" width="15.6" height="15.6" fill="#000"/>
<rect x="456.6" y="600.68" width="15.6" height="15.6" fill="#000"/>
<rect x="461.13" y="596.16" width="15.6" height="15.6" fill="#000"/>
<rect x="466.01" y="592.03" width="15.6" height="15.6" fill="#000"/>
<rect x="471.39" y="588.56" width="15.6" height="15.6" fill="#000"/>
<rect x="476.99" y="585.47" width="15.6" height="15.6" fill="#000"/>
<rect x="482.76" y="582.7" width="15.6" height="15.6" fill="#000"/>
<rect x="488.63" y="580.16" width="15.6" height="15.6" fill="#000"/>
<rect x="494.57" y="577.76" width="15.6" height="15.6" fill="#000"/>
<rect x="500.57" y="575.55" width="15.6" height="15.6" fill="#000"/>
<rect x="506.63" y="573.5" width="15.6" height="15.6" fill="#000"/>
<rect x="512.74" y="571.57" width="15.6" height="15.6" fill="#000"/>
<rect x="518.86" y="569.71" width="15.6" height="15.6" fill="#000"/>
<rect x="525.03" y="568.01" width="15.6" height="15.6" fill="#000"/>
<rect x="531.22" y="566.39" width="15.6" height="15.6" fill="#000"/>
<rect x="537.39" y="564.69" width="15.6" height="15.6" fill="#000"/>
<rect x="543.49" y="562.74" width="15.6" height="15.6" fill="#000"/>
<circle cx="362.5" cy="889" r="8.4" fill="#f00"/>
<circle cx="364.18" cy="882.83" r="8.4" fill="#f00"/>
<circle cx="365.86" cy="876.65" r="8.4" fill="#f00"/>
<circle cx="367.53" cy="870.47" r="8.4" fill="#f00"/>
<circle cx="369.19" cy="864.29" r="8.4" fill="#f00"/>
<circle cx="370.85" cy="858.11" r="8.4" fill="#f00"/>
<circle cx="372.49" cy="851.92" r="8.4" fill="#f00"/>
<circle cx="374.12" cy="845.73" r="8.4" fill="#f00"/>
<circle cx="375.73" cy="839.54" r="8.4" fill="#f00"/>
<circle cx="377.32" cy="833.34" r="8.4" fill="#f00"/>
<circle cx="378.91" cy="827.14" r="8.4" fill="#f00"/>
<circle cx="380.49" cy="820.94" r="8.4" fill="#f00"/>
<circle cx="382.09" cy="814.74" r="8.4" fill="#f00"/>
<circle cx="383.71" cy="808.55" r="8.4" fill="#f00"/>
<circle cx="385.36" cy="802.37" r="8.4" fill="#f00"/>
<circle cx="387.04" cy="796.19" r="8.4" fill="#f00"/>
<circle cx="388.75" cy="790.02" r="8.4" fill="#f00"/>
<circle cx="390.48" cy="783.86" r="8.4" fill="#f00"/>
<circle cx="392.22" cy="777.7" r="8.4" fill="#f00"/>
<circle cx="393.99" cy="771.55" r="8.4" fill="#f00"/>
<circle cx="395.77" cy="765.4" r="8.4" fill="#f00"/>
<circle cx="397.56" cy="759.26" r="8.4" fill="#f00"/>
<circle cx="399.37" cy="753.12" r="8.4" fill="#f00"/>
<circle cx="401.2" cy="746.99" r="8.4" fill="#f00"/>
<circle cx="403.04" cy="740.86" r="8.4" fill="#f00"/>
<circle cx="404.9" cy="734.73" r="8.4" fill="#f00"/>
<circle cx="406.76" cy="728.61" r="8.4" fill="#f00"/>
<circle cx="408.66" cy="722.5" r="8.4" fill="#f00"/>
<circle cx="410.59" cy="716.4" r="8.4" fill="#f00"/>
<circle cx="412.57" cy="710.31" r="8.4" fill="#f00"/>
<circle cx="414.59" cy="704.24" r="8.4" fill="#f00"/>
<circle cx="416.65" cy="698.18" r="8.4" fill="#f00"/>
<circle cx="418.74" cy="692.13" r="8.4" fill="#f00"/>
<circle cx="420.89" cy="686.1" r="8.4" fill="#f00"/>
<circle cx="423.11" cy="680.1" r="8.4" fill="#f00"/>
<circle cx="425.44" cy="674.14" r="8.4" fill="#f00"/>
<circle cx="427.89" cy="668.23" r="8.4" fill="#f00"/>
<circle cx="430.42" cy="662.35" r="8.4" fill="#f00"/>
<circle cx="433.06" cy="656.52" r="8.4" fill="#f00"/>
<circle cx="435.84" cy="650.75" r="8.4" fill="#f00"/>
<circle cx="438.79" cy="645.07" r="8.4" fill="#f00"/>
<circle cx="441.89" cy="639.48" r="8.4" fill="#f00"/>
<circle cx="445.15" cy="633.97" r="8.4" fill="#f00"/>
<circle cx="448.6" cy="628.58" r="8.4" fill="#f00"/>
<circle cx="452.23" cy="623.31" r="8.4" fill="#f00"/>
<circle cx="456.04" cy="618.17" r="8.4" fill="#f00"/>
<circle cx="460.08" cy="613.2" r="8.4" fill="#f00"/>
<circle cx="464.4" cy="608.48" r="8.4" fill="#f00"/>
<circle cx="468.93" cy="603.96" r="8.4" fill="#f00"/>
<circle cx="473.81" cy="599.83" r="8.4" fill="#f00"/>
<circle cx="479.19" cy="596.36" r="8.4" fill="#f00"/>
<circle cx="484.79" cy="593.27" r="8.4" fill="#f00"/>
<circle cx="490.56" cy="590.5" r="8.4" fill="#f00"/>
<circle cx="496.43" cy="587.96" r="8.4" fill="#f00"/>
<circle cx="502.37" cy="585.56" r="8.4" fill="#f00"/>
<circle cx="508.37" cy="583.35" r="8.4" fill="#f00"/>
<circle cx="514.43" cy="581.3" r="8.4" fill="#f00"/>
<circle cx="520.54" cy="579.37" r="8.4" fill="#f00"/>
<circle cx="526.66" cy="577.51" r="8.4" fill="#f00"/>
<circle cx="532.83" cy="575.81" r="8.4" fill="#f00"/>
<circle cx="539.02" cy="574.19" r="8.4" fill="#f00"/>
<circle cx="545.19" cy="572.49" r="8.4" fill="#f00"/>
<circle cx="551.29" cy="570.54" r="8.4" fill="#f00"/>
<polyline points="362.5,889 363.13,886.68 363.77,884.36 364.4,882.03 365.04,879.7 365.67,877.36 366.3,875.02 366.94,872.68 367.57,870.33 368.2,867.97 368.84,865.61 369.47,863.25 370.11,860.88 370.74,858.51 371.37,856.13 372.01,853.75 372.64,851.36 373.27,848.96 373.91,846.55 374.54,844.12 375.18,841.68 375.81,839.23 376.44,836.76 377.08,834.29 377.71,831.81 378.34,829.33 378.98,826.85 379.61,824.37 380.25,821.9 380.88,819.43 381.51,816.97 382.15,814.52 382.78,812.09 383.41,809.67 384.05,807.26 384.68,804.88 385.32,802.52 385.95,800.18 386.58,797.87 387.22,795.56 387.85,793.27 388.48,790.98 389.12,788.71 389.75,786.44 390.39,784.19 391.02,781.94 391.65,779.7 392.29,777.47 392.92,775.26 393.56,773.04 394.19,770.84 394.82,768.65 395.46,766.46 396.09,764.29 396.72,762.12 397.36,759.95 397.99,757.8 398.63,755.65 399.26,753.51 399.89,751.38 400.53,749.25 401.16,747.13 401.79,745.02 402.43,742.91 403.06,740.8 403.7,738.7 404.33,736.6 404.96,734.51 405.6,732.43 406.23,730.35 406.86,728.29 407.5,726.23 408.13,724.19 408.77,722.16 409.4,720.14 410.03,718.14 410.67,716.16 411.3,714.19 411.93,712.24 412.57,710.3 413.2,708.39 413.84,706.5 414.47,704.61 415.1,702.73 415.74,700.86 416.37,698.99 417.01,697.14 417.64,695.3 418.27,693.47 418.91,691.65 419.54,689.86 420.17,688.08 420.81,686.32 421.44,684.58 422.08,682.86 422.71,681.16 423.34,679.49 423.98,677.84 424.61,676.22 425.24,674.63 425.88,673.07 426.51,671.52 427.15,669.99 427.78,668.48 428.41,666.98 429.05,665.49 429.68,664.03 430.31,662.58 430.95,661.15 431.58,659.73 432.22,658.34 432.85,656.97 433.48,655.61 434.12,654.27 434.75,652.96 435.38,651.66 436.02,650.39 436.65,649.14 437.29,647.91 437.92,646.7 438.55,645.51 439.19,644.33 439.82,643.17 440.45,642.02 441.09,640.88 441.72,639.77 442.36,638.66 442.99,637.57 443.62,636.5 444.26,635.44 444.89,634.39 445.53,633.36 446.16,632.35 446.79,631.35 447.43,630.36 448.06,629.39 448.69,628.43 449.33,627.48 449.96,626.56 450.6,625.64 451.23,624.73 451.86,623.83 452.5,622.94 453.13,622.07 453.76,621.2 454.4,620.34 455.03,619.5 455.67,618.66 456.3,617.84 456.93,617.03 457.57,616.23 458.2,615.45 458.83,614.68 459.47,613.92 460.1,613.18 460.74,612.45 461.37,611.73 462,611.04 462.64,610.35 463.27,609.68 463.9,609.01 464.54,608.34 465.17,607.68 465.81,607.03 466.44,606.38 467.07,605.75 467.71,605.13 468.34,604.51 468.97,603.91 469.61,603.32 470.24,602.75 470.88,602.19 471.51,601.65 472.14,601.13 472.78,600.62 473.41,600.13 474.05,599.66 474.68,599.22 475.31,598.79 475.95,598.37 476.58,597.97 477.21,597.56 477.85,597.17 478.48,596.78 479.12,596.4 479.75,596.03 480.38,595.66 481.02,595.3 481.65,594.94 482.28,594.59 482.92,594.25 483.55,593.91 484.19,593.58 484.82,593.25 485.45,592.93 486.09,592.61 486.72,592.3 487.35,591.99 487.99,591.69 488.62,591.39 489.26,591.09 489.89,590.8 490.52,590.51 491.16,590.23 491.79,589.94 492.42,589.67 493.06,589.39 493.69,589.12 494.33,588.84 494.96,588.58 495.59,588.31 496.23,588.05 496.86,587.78 497.49,587.52 498.13,587.26 498.76,587 499.4,586.74 500.03,586.49 500.66,586.23 501.3,585.98 501.93,585.73 502.57,585.49 503.2,585.24 503.83,585 504.47,584.76 505.1,584.53 505.73,584.29 506.37,584.06 507,583.83 507.64,583.61 508.27,583.38 508.9,583.16 509.54,582.94 510.17,582.72 510.8,582.51 511.44,582.29 512.07,582.08 512.71,581.87 513.34,581.66 513.97,581.45 514.61,581.24 515.24,581.04 515.87,580.83 516.51,580.63 517.14,580.43 517.78,580.23 518.41,580.03 519.04,579.83 519.68,579.63 520.31,579.44 520.94,579.24 521.58,579.04 522.21,578.85 522.85,578.66 523.48,578.46 524.11,578.27 524.75,578.08 525.38,577.88 526.02,577.7 526.65,577.51 527.28,577.33 527.92,577.14 528.55,576.97 529.18,576.79 529.82,576.61 530.45,576.44 531.09,576.27 531.72,576.1 532.35,575.93 532.99,575.76 533.62,575.6 534.25,575.43 534.89,575.27 535.52,575.1 536.16,574.94 536.79,574.77 537.42,574.61 538.06,574.44 538.69,574.27 539.32,574.11 539.96,573.94 540.59,573.77 541.23,573.6 541.86,573.43 542.49,573.25 543.13,573.08 543.76,572.9 544.39,572.72 545.03,572.54 545.66,572.35 546.3,572.17 546.93,571.97 547.56,571.78 548.2,571.58 548.83,571.38 549.46,571.17 550.1,570.95 550.73,570.74 551.37,570.52 552,570.3" fill="none" stroke="#f00" stroke-width="16.4" stroke-linecap="butt" stroke-linejoin="round"/>
</g>
<line x1="94.7" y1="558" x2="103.7" y2="558" stroke="#000" stroke-width="4.3" stroke-linecap="butt"/>
<line x1="94.7" y1="606.27" x2="103.7" y2="606.27" stroke="#000" stroke-width="4.3" stroke-linecap="butt"/>
<line x1="94.7" y1="654.55" x2="103.7" y2="654.55" stroke="#000" stroke-width="4.3" stroke-linecap="butt"/>
<line x1="94.7" y1="702.83" x2="103.7" y2="702.83" stroke="#000" stroke-width="4.3" stroke-linecap="butt"/>
<line x1="94.7" y1="751.1" x2="103.7" y2="751.1" stroke="#000" stroke-width="4.3" stroke-linecap="butt"/>
<line x1="94.7" y1="799.38" x2="103.7" y2="799.38" stroke="#000" stroke-width="4.3" stroke-linecap="butt"/>
<line x1="94.7" y1="847.65" x2="103.7" y2="847.65" stroke="#000" stroke-width="4.3" stroke-linecap="butt"/>
<line x1="94.7" y1="895.92" x2="103.7" y2="895.92" stroke="#000" stroke-width="4.3" stroke-linecap="butt"/>
<line x1="98.2" y1="582.14" x2="103.7" y2="582.14" stroke="#000" stroke-width="3.6" stroke-linecap="butt"/>
<line x1="98.2" y1="630.41" x2="103.7" y2="630.41" stroke="#000" stroke-width="3.6" stroke-linecap="butt"/>
<line x1="98.2" y1="678.69" x2="103.7" y2="678.69" stroke="#000" stroke-width="3.6" stroke-linecap="butt"/>
<line x1="98.2" y1="726.96" x2="103.7" y2="726.96" stroke="#000" stroke-width="3.6" stroke-linecap="butt"/>
<line x1="98.2" y1="775.24" x2="103.7" y2="775.24" stroke="#000" stroke-width="3.6" stroke-linecap="butt"/>
<line x1="98.2" y1="823.51" x2="103.7" y2="823.51" stroke="#000" stroke-width="3.6" stroke-linecap="butt"/>
<line x1="98.2" y1="871.79" x2="103.7" y2="871.79" stroke="#000" stroke-width="3.6" stroke-linecap="butt"/>
<line x1="98.2" y1="920.06" x2="103.7" y2="920.06" stroke="#000" stroke-width="3.6" stroke-linecap="butt"/>
<line x1="547.5" y1="919.5" x2="547.5" y2="928.5" stroke="#000" stroke-width="4" stroke-linecap="butt"/>
<line x1="436.4" y1="919.5" x2="436.4" y2="928.5" stroke="#000" stroke-width="4" stroke-linecap="butt"/>
<line x1="325.3" y1="919.5" x2="325.3" y2="928.5" stroke="#000" stroke-width="4" stroke-linecap="butt"/>
<line x1="214.2" y1="919.5" x2="214.2" y2="928.5" stroke="#000" stroke-width="4" stroke-linecap="butt"/>
<line x1="103.1" y1="919.5" x2="103.1" y2="928.5" stroke="#000" stroke-width="4" stroke-linecap="butt"/>
<line x1="491.95" y1="919.5" x2="491.95" y2="925" stroke="#000" stroke-width="3.2" stroke-linecap="butt"/>
<line x1="380.85" y1="919.5" x2="380.85" y2="925" stroke="#000" stroke-width="3.2" stroke-linecap="butt"/>
<line x1="269.75" y1="919.5" x2="269.75" y2="925" stroke="#000" stroke-width="3.2" stroke-linecap="butt"/>
<line x1="158.65" y1="919.5" x2="158.65" y2="925" stroke="#000" stroke-width="3.2" stroke-linecap="butt"/>
<text x="91.2" y="565.6" font-size="26" font-weight="bold" font-family='"Liberation Sans", Arial, Helvetica, sans-serif' fill="#000" text-anchor="end" textLength="12.5" lengthAdjust="spacingAndGlyphs">0</text>
<text x="91.2" y="613.88" font-size="26" font-weight="bold" font-family='"Liberation Sans", Arial, Helvetica, sans-serif' fill="#000" text-anchor="end" textLength="21.5" lengthAdjust="spacingAndGlyphs">-5</text>
<text x="91.2" y="662.15" font-size="26" font-weight="bold" font-family='"Liberation Sans", Arial, Helvetica, sans-serif' fill="#000" text-anchor="end" textLength="33.4" lengthAdjust="spacingAndGlyphs">-10</text>
<text x="91.2" y="710.43" font-size="26" font-weight="bold" font-family='"Liberation Sans", Arial, Helvetica, sans-serif' fill="#000" text-anchor="end" textLength="33.4" lengthAdjust="spacingAndGlyphs">-15</text>
<text x="91.2" y="758.7" font-size="26" font-weight="bold" font-family='"Liberation Sans", Arial, Helvetica, sans-serif' fill="#000" text-anchor="end" textLength="33.4" lengthAdjust="spacingAndGlyphs">-20</text>
<text x="91.2" y="806.98" font-size="26" font-weight="bold" font-family='"Liberation Sans", Arial, Helvetica, sans-serif' fill="#000" text-anchor="end" textLength="33.4" lengthAdjust="spacingAndGlyphs">-25</text>
<text x="91.2" y="855.25" font-size="26" font-weight="bold" font-family='"Liberation Sans", Arial, Helvetica, sans-serif' fill="#000" text-anchor="end" textLength="33.4" lengthAdjust="spacingAndGlyphs">-30</text>
<text x="91.2" y="903.52" font-size="26" font-weight="bold" font-family='"Liberation Sans", Arial, Helvetica, sans-serif' fill="#000" text-anchor="end" textLength="33.4" lengthAdjust="spacingAndGlyphs">-35</text>
<text x="548.5" y="951.6" font-size="26" font-weight="bold" font-family='"Liberation Sans", Arial, Helvetica, sans-serif' fill="#000" text-anchor="middle" textLength="32" lengthAdjust="spacingAndGlyphs">0.0</text>
<text x="436.6" y="951.6" font-size="26" font-weight="bold" font-family='"Liberation Sans", Arial, Helvetica, sans-serif' fill="#000" text-anchor="middle" textLength="39.3" lengthAdjust="spacingAndGlyphs">-0.1</text>
<text x="325.5" y="951.6" font-size="26" font-weight="bold" font-family='"Liberation Sans", Arial, Helvetica, sans-serif' fill="#000" text-anchor="middle" textLength="39.3" lengthAdjust="spacingAndGlyphs">-0.2</text>
<text x="214.4" y="951.6" font-size="26" font-weight="bold" font-family='"Liberation Sans", Arial, Helvetica, sans-serif' fill="#000" text-anchor="middle" textLength="39.3" lengthAdjust="spacingAndGlyphs">-0.3</text>
<text x="103.3" y="951.6" font-size="26" font-weight="bold" font-family='"Liberation Sans", Arial, Helvetica, sans-serif' fill="#000" text-anchor="middle" textLength="39.3" lengthAdjust="spacingAndGlyphs">-0.4</text>
<text x="177.2" y="998.8" font-size="31" font-weight="bold" font-family='"Liberation Sans", Arial, Helvetica, sans-serif' fill="#000" textLength="297.5" lengthAdjust="spacingAndGlyphs">Potential (V vs. RHE)</text>
<text x="33.6" y="801.5" font-size="29" font-weight="bold" font-family='"Liberation Sans", Arial, Helvetica, sans-serif' fill="#000" font-style="italic" textLength="159" lengthAdjust="spacingAndGlyphs" transform="rotate(-90 33.6 801.5)">j (mAcm<tspan font-size="21" dy="-11.5">-2</tspan><tspan dy="11.5">)</tspan></text>
<text x="11.6" y="578.6" font-size="41" font-weight="bold" font-family='"Liberation Sans", Arial, Helvetica, sans-serif' fill="#000" textLength="47.5" lengthAdjust="spacingAndGlyphs">(c)</text>
<rect x="127.1" y="564.3" width="15.4" height="15.4" fill="#000"/>
<circle cx="135" cy="613.8" r="8.7" fill="#f00"/>
<text x="162" y="578.5" font-size="34" font-weight="bold" font-family='"Liberation Sans", Arial, Helvetica, sans-serif' fill="#000" textLength="80.5" lengthAdjust="spacingAndGlyphs">Initial</text>
<text x="164.3" y="620.8" font-size="34" font-weight="bold" font-family='"Liberation Sans", Arial, Helvetica, sans-serif' fill="#000" textLength="259" lengthAdjust="spacingAndGlyphs">After 1000 cycles</text>
</g>
<g id="panel-d">
<polygon points="736,676 738,675 760,664 780,656 800,648 820,640 840,634 860,629 880,625 900,623 920,622 940,621 960,620 980,618 1010,616 1030,612 1050,608 1070,608 1100,605.6 1130,604.4 1160,603 1177,601.4 1177,613 1160,614 1130,615.6 1100,617.6 1070,619.6 1050,620 1046,623 1030,625 1010,628 980,630 960,631 940,632 920,634 900,635.6 892,638 880,640 860,644 840,650 820,657 800,665.5 780,674 770,678.5 756,685.5 738,691 736,691.5" fill="#000" stroke="#000" stroke-width="0.8" stroke-linejoin="round"/>
<line x1="737.2" y1="668" x2="737.2" y2="706" stroke="#000" stroke-width="4.4" stroke-linecap="butt"/>
<line x1="736.8" y1="551" x2="736.8" y2="919" stroke="#000" stroke-width="4.2" stroke-linecap="butt"/>
<line x1="1176.5" y1="551" x2="1176.5" y2="919" stroke="#000" stroke-width="4.6" stroke-linecap="butt"/>
<line x1="734.7" y1="916.8" x2="1178.8" y2="916.8" stroke="#000" stroke-width="4.4" stroke-linecap="butt"/>
<line x1="728.3" y1="615.2" x2="736.8" y2="615.2" stroke="#000" stroke-width="4.2" stroke-linecap="butt"/>
<line x1="728.3" y1="690.58" x2="736.8" y2="690.58" stroke="#000" stroke-width="4.2" stroke-linecap="butt"/>
<line x1="728.3" y1="765.95" x2="736.8" y2="765.95" stroke="#000" stroke-width="4.2" stroke-linecap="butt"/>
<line x1="728.3" y1="841.33" x2="736.8" y2="841.33" stroke="#000" stroke-width="4.2" stroke-linecap="butt"/>
<line x1="728.3" y1="916.7" x2="736.8" y2="916.7" stroke="#000" stroke-width="4.2" stroke-linecap="butt"/>
<line x1="731.8" y1="577.51" x2="736.8" y2="577.51" stroke="#000" stroke-width="3.2" stroke-linecap="butt"/>
<line x1="731.8" y1="652.89" x2="736.8" y2="652.89" stroke="#000" stroke-width="3.2" stroke-linecap="butt"/>
<line x1="731.8" y1="728.26" x2="736.8" y2="728.26" stroke="#000" stroke-width="3.2" stroke-linecap="butt"/>
<line x1="731.8" y1="803.64" x2="736.8" y2="803.64" stroke="#000" stroke-width="3.2" stroke-linecap="butt"/>
<line x1="731.8" y1="879.01" x2="736.8" y2="879.01" stroke="#000" stroke-width="3.2" stroke-linecap="butt"/>
<line x1="736.5" y1="916.8" x2="736.5" y2="925.8" stroke="#000" stroke-width="4" stroke-linecap="butt"/>
<line x1="809.75" y1="916.8" x2="809.75" y2="925.8" stroke="#000" stroke-width="4" stroke-linecap="butt"/>
<line x1="883" y1="916.8" x2="883" y2="925.8" stroke="#000" stroke-width="4" stroke-linecap="butt"/>
<line x1="956.25" y1="916.8" x2="956.25" y2="925.8" stroke="#000" stroke-width="4" stroke-linecap="butt"/>
<line x1="1029.5" y1="916.8" x2="1029.5" y2="925.8" stroke="#000" stroke-width="4" stroke-linecap="butt"/>
<line x1="1102.75" y1="916.8" x2="1102.75" y2="925.8" stroke="#000" stroke-width="4" stroke-linecap="butt"/>
<line x1="1176" y1="916.8" x2="1176" y2="925.8" stroke="#000" stroke-width="4" stroke-linecap="butt"/>
<line x1="773.12" y1="916.8" x2="773.12" y2="921.8" stroke="#000" stroke-width="3.2" stroke-linecap="butt"/>
<line x1="846.38" y1="916.8" x2="846.38" y2="921.8" stroke="#000" stroke-width="3.2" stroke-linecap="butt"/>
<line x1="919.62" y1="916.8" x2="919.62" y2="921.8" stroke="#000" stroke-width="3.2" stroke-linecap="butt"/>
<line x1="992.88" y1="916.8" x2="992.88" y2="921.8" stroke="#000" stroke-width="3.2" stroke-linecap="butt"/>
<line x1="1066.12" y1="916.8" x2="1066.12" y2="921.8" stroke="#000" stroke-width="3.2" stroke-linecap="butt"/>
<line x1="1139.38" y1="916.8" x2="1139.38" y2="921.8" stroke="#000" stroke-width="3.2" stroke-linecap="butt"/>
<text x="723.6" y="622.7" font-size="25" font-weight="bold" font-family='"Liberation Sans", Arial, Helvetica, sans-serif' fill="#000" text-anchor="end" textLength="32.5" lengthAdjust="spacingAndGlyphs">-50</text>
<text x="723.6" y="698.08" font-size="25" font-weight="bold" font-family='"Liberation Sans", Arial, Helvetica, sans-serif' fill="#000" text-anchor="end" textLength="44.5" lengthAdjust="spacingAndGlyphs">-100</text>
<text x="723.6" y="773.45" font-size="25" font-weight="bold" font-family='"Liberation Sans", Arial, Helvetica, sans-serif' fill="#000" text-anchor="end" textLength="44.5" lengthAdjust="spacingAndGlyphs">-150</text>
<text x="723.6" y="848.83" font-size="25" font-weight="bold" font-family='"Liberation Sans", Arial, Helvetica, sans-serif' fill="#000" text-anchor="end" textLength="44.5" lengthAdjust="spacingAndGlyphs">-200</text>
<text x="723.6" y="924.2" font-size="25" font-weight="bold" font-family='"Liberation Sans", Arial, Helvetica, sans-serif' fill="#000" text-anchor="end" textLength="44.5" lengthAdjust="spacingAndGlyphs">-250</text>
<text x="736.5" y="948.6" font-size="26" font-weight="bold" font-family='"Liberation Sans", Arial, Helvetica, sans-serif' fill="#000" text-anchor="middle" textLength="12.3" lengthAdjust="spacingAndGlyphs">0</text>
<text x="809.75" y="948.6" font-size="26" font-weight="bold" font-family='"Liberation Sans", Arial, Helvetica, sans-serif' fill="#000" text-anchor="middle" textLength="12.3" lengthAdjust="spacingAndGlyphs">5</text>
<text x="883" y="948.6" font-size="26" font-weight="bold" font-family='"Liberation Sans", Arial, Helvetica, sans-serif' fill="#000" text-anchor="middle" textLength="25.5" lengthAdjust="spacingAndGlyphs">10</text>
<text x="956.25" y="948.6" font-size="26" font-weight="bold" font-family='"Liberation Sans", Arial, Helvetica, sans-serif' fill="#000" text-anchor="middle" textLength="25.5" lengthAdjust="spacingAndGlyphs">15</text>
<text x="1029.5" y="948.6" font-size="26" font-weight="bold" font-family='"Liberation Sans", Arial, Helvetica, sans-serif' fill="#000" text-anchor="middle" textLength="25.5" lengthAdjust="spacingAndGlyphs">20</text>
<text x="1102.75" y="948.6" font-size="26" font-weight="bold" font-family='"Liberation Sans", Arial, Helvetica, sans-serif' fill="#000" text-anchor="middle" textLength="25.5" lengthAdjust="spacingAndGlyphs">25</text>
<text x="1176" y="948.6" font-size="26" font-weight="bold" font-family='"Liberation Sans", Arial, Helvetica, sans-serif' fill="#000" text-anchor="middle" textLength="25.5" lengthAdjust="spacingAndGlyphs">30</text>
<text x="898.5" y="995.2" font-size="32" font-weight="bold" font-family='"Liberation Sans", Arial, Helvetica, sans-serif' fill="#000" textLength="115" lengthAdjust="spacingAndGlyphs">Time (h)</text>
<text x="655.8" y="802" font-size="29" font-weight="bold" font-family='"Liberation Sans", Arial, Helvetica, sans-serif' fill="#000" font-style="italic" textLength="162.5" lengthAdjust="spacingAndGlyphs" transform="rotate(-90 655.8 802)">j (mAcm<tspan font-size="21" dy="-11.5">-2</tspan><tspan dy="11.5">)</tspan></text>
<text x="626.2" y="578" font-size="37.5" font-weight="bold" font-family='"Liberation Sans", Arial, Helvetica, sans-serif' fill="#000" textLength="49" lengthAdjust="spacingAndGlyphs">(d)</text>
</g>
</svg></body></html>
